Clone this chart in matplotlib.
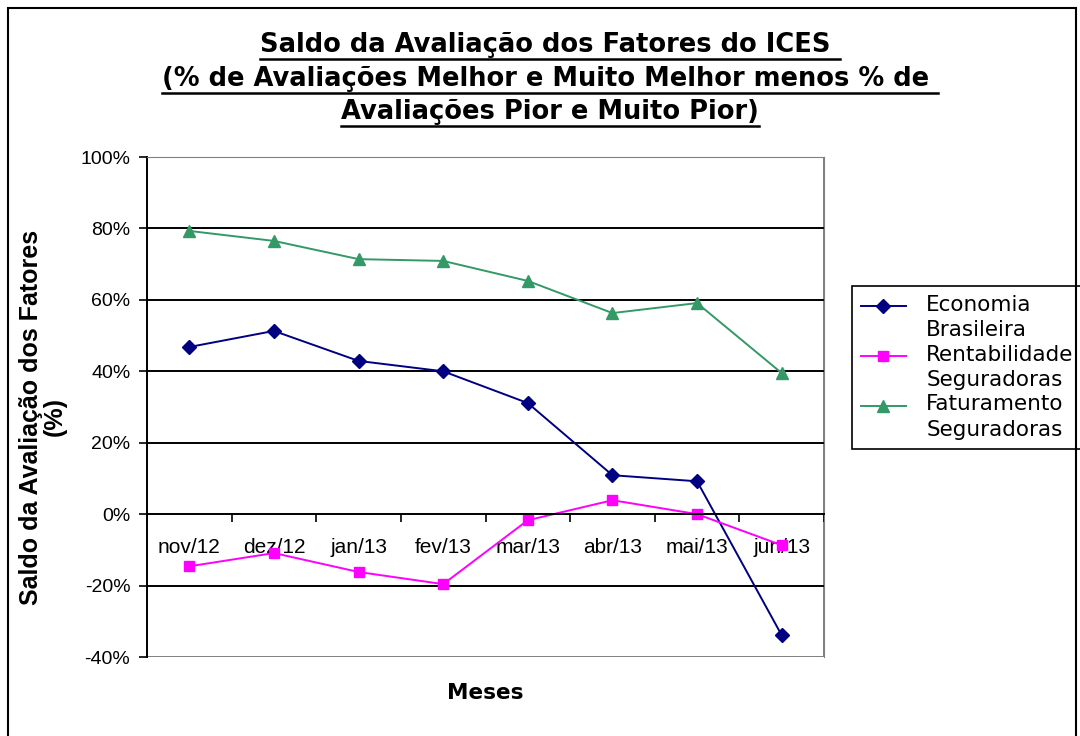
import numpy as np
from matplotlib import pyplot as plt
from matplotlib.patches import Rectangle
from matplotlib.lines import Line2D
from matplotlib.legend_handler import HandlerLine2D

meses = ['nov/12', 'dez/12', 'jan/13', 'fev/13', 'mar/13', 'abr/13', 'mai/13', 'jun/13']
economia = [46.8, 51.3, 42.9, 40.0, 31.1, 10.9, 9.2, -33.9]
rentabilidade = [-14.6, -10.9, -16.2, -19.6, -1.7, 3.9, 0.0, -8.7]
faturamento = [79.3, 76.5, 71.4, 70.9, 65.3, 56.3, 59.1, 39.5]
nomes = ['Economia\nBrasileira', 'Rentabilidade\nSeguradoras', 'Faturamento\nSeguradoras']


class HandlerTopo(HandlerLine2D):
    # put the legend marker next to the first line of the label
    def create_artists(self, legend, orig_handle, xdescent, ydescent, width, height, fontsize, trans):
        return super().create_artists(legend, orig_handle, xdescent, ydescent, width,
                                      height + 17, fontsize, trans)


fig = plt.figure(figsize=(10.8, 7.36), dpi=100)
ax = fig.add_axes([147 / 1080, 1 - 657 / 736, 677 / 1080, 500 / 736])

x = np.arange(len(meses))
l1, = ax.plot(x, economia, color='#000080', lw=1.4, marker='D', ms=7.5, label=nomes[0])
l2, = ax.plot(x, rentabilidade, color='#FF00FF', lw=1.4, marker='s', ms=7, label=nomes[1])
l3, = ax.plot(x, faturamento, color='#339966', lw=1.4, marker='^', ms=8.5, label=nomes[2])

ax.set_xlim(-0.5, len(meses) - 0.5)
ax.set_ylim(-40, 100)
ax.set_yticks(np.arange(-40, 101, 20))
ax.set_yticklabels([f'{v}%' for v in range(-40, 101, 20)])
for v in range(-20, 101, 20):
    if v != 0:
        ax.axhline(v, color='black', lw=1.4, zorder=1)

ax.set_xticks(x)
ax.set_xticklabels(meses)
ax.set_xticks(np.arange(len(meses) + 1) - 0.5, minor=True)
ax.tick_params(axis='x', which='major', length=0, pad=17, labelsize=15,
               labelfontfamily='Liberation Sans')
ax.tick_params(axis='x', which='minor', length=6, width=1.2, direction='out')
ax.tick_params(axis='y', length=6, width=1.2, direction='out', pad=6, labelsize=14,
               labelfontfamily='Liberation Sans')

ax.spines['bottom'].set_position(('data', 0))
ax.spines['bottom'].set_linewidth(1.4)
ax.spines['left'].set_linewidth(1.4)
ax.spines['top'].set_color('#808080')
ax.spines['right'].set_color('#808080')
ax.add_patch(Rectangle((0, 0), 1, 1, transform=ax.transAxes, fill=False,
                       edgecolor='#808080', lw=1.4, zorder=0))

fig.text(485 / 1080, 1 - 693 / 736, 'Meses', ha='center', va='center',
         fontsize=15.5, fontweight='bold', family='DejaVu Sans')
fig.text(43 / 1080, 1 - 417 / 736, 'Saldo da Avaliação dos Fatores\n(%)', ha='center', va='center',
         rotation=90, fontsize=18, fontweight='bold', family='Liberation Sans', linespacing=0.95)

leg = ax.legend(loc='upper left', bbox_to_anchor=(852 / 1080, 1 - 286 / 736),
                bbox_transform=fig.transFigure, borderaxespad=0, fancybox=False,
                edgecolor='black', framealpha=1, prop={'family': 'DejaVu Sans', 'size': 15.5},
                handlelength=2.1, labelspacing=0.2, borderpad=0.4, handletextpad=0.95,
                handler_map={Line2D: HandlerTopo()})
leg.get_frame().set_linewidth(1.2)
for t in leg.get_texts():
    t.set_linespacing(1.35)

titulos = ['Saldo da Avaliação dos Fatores do ICES ',
           '(% de Avaliações Melhor e Muito Melhor menos % de ',
           'Avaliações Pior e Muito Pior)']
ys = [45, 79, 112]
textos = []
for t, yy in zip(titulos, ys):
    textos.append(fig.text(550 / 1080, 1 - yy / 736, t, ha='center', va='center',
                           fontsize=18.5, fontweight='bold', family='DejaVu Sans'))

fig.patches.append(Rectangle((8 / 1080, -0.01), 1068 / 1080, 1 - 8 / 736 + 0.01,
                             transform=fig.transFigure, fill=False, edgecolor='black', lw=1.5))

fig.canvas.draw()
r = fig.canvas.get_renderer()
for t in textos:
    bb = t.get_window_extent(r)
    yl = (bb.y0 - 1) / fig.bbox.height
    fig.lines.append(Line2D([bb.x0 / fig.bbox.width, bb.x1 / fig.bbox.width], [yl, yl],
                            transform=fig.transFigure, color='black', lw=1.8))

fig.savefig('out.png', dpi=100)
